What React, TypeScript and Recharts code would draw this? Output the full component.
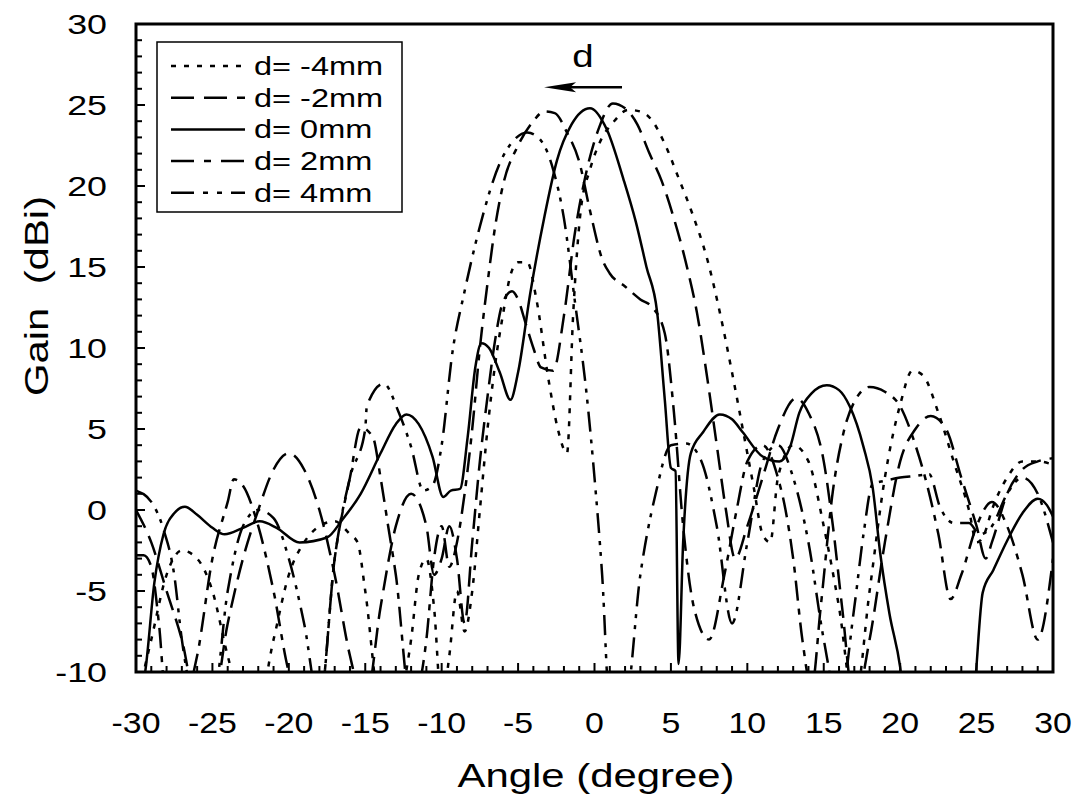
import React from 'react';
import { LineChart, Line, XAxis, YAxis, ReferenceArea, ReferenceLine } from 'recharts';

// ---- data (angle in degree, gain in dBi) ----
const xTicks = Array.from({ length: 61 }, (_, i) => i - 30);
const yTicks = Array.from({ length: 41 }, (_, i) => i - 10);

const m4Angle = [-30,-29,-28,-27,-26,-25,-24,-23,-22,-21,-20,-19,-18,-17,-16,-15.5,-15,-14,-13,-12,-11.5,-11,-10.5,-10,-9.5,-9,-8.5,-8,-7.5,-7,-6.5,-6,-5.5,-5,-4.4,-3.8,-3,-2.4,-1.8,-1.4,-0.9,-0.3,0.4,1.2,2.2,3,3.8,4.6,5.5,6.4,7.4,8.2,9.1,9.8,10.4,11,11.5,12,13,14,15,16,17,18,19,20,20.8,21.5,22.5,23.5,24.5,25,25.5,26,27,28,29,30];
const m4Gain = [-12,-8,-4,-2.5,-3,-5,-9,-12,-12,-8,-4,-2,-1,-0.7,-1.5,-2,-5,-12,-12,-8,-4,-3,-6,-12,-9,-5,-7.5,-5,0,5,9,12,14.5,15.3,15.3,13,8,5,3.5,12,18.5,21,22.8,23.9,24.7,24.6,24,22.6,20.5,18.3,15.4,12.2,8,4.5,1.5,-1.5,-2,2,4,3,-1,-6,-12,-5,2,6.5,8.6,8.3,6,3,0,-2,-1.5,0,2,3,3,2.8];

const m2Angle = [-30,-29,-28,-27,-26,-25,-24,-23,-22,-21,-20,-19,-18,-17,-16,-15,-14,-13,-12,-11,-10.5,-10,-9.5,-9,-8.5,-8,-7.5,-7,-6.5,-6,-5.4,-5,-4.5,-4,-3.5,-2.7,-2,-1.3,-0.5,0.3,1.2,2,2.8,3.6,4.4,5.1,6.05,6.7,7.4,8,8.6,9.2,10,11,12,13.2,14,15,15.6,16.2,17,18,19,20,21,22,23,24,25,25.6,26,27,28,29,30];
const m2Gain = [0,-2,-5,-8,-12,-12,-7,-3,0,2.5,3.5,2.5,0,-4,-9,-12,-6,-1,1,-1,-4,-3,-1,-3,-7,-2,3,7,10.5,12.8,13.5,13,11.5,10,8.8,8.6,12,17,21,23.6,25.1,24.8,23.8,22,20.3,18.3,15,12.2,8,4,0,-3,-1,2,5,6.9,6,3,-1,-6,-12,-8,-2,3,5,5.8,5,2,-1,-3,-2,1,2.5,3,3.2];

const z0Angle = [-30,-29.4,-28.8,-28.2,-27.5,-26.8,-26,-25,-24.2,-23,-21.9,-20.8,-19.3,-17.5,-16.5,-15.3,-14,-13,-12.3,-11.5,-10.6,-9.9,-9.4,-8.8,-8.3,-7.8,-7.4,-6.9,-6.2,-5.5,-5,-4.2,-3.3,-2.45,-1.5,-0.3,0.8,1.9,2.7,3.4,4.1,4.6,5,5.3,5.5,5.8,6.3,7.1,8.2,9,9.7,11,12.1,12.8,13.4,14.2,15.2,16,16.7,17.6,18.2,18.7,19.3,20,20.3,24.7,25.4,26.1,27,28,29,29.6,30];
const z0Gain = [-12,-10,-4.5,-1.5,-0.2,0.2,-0.3,-1.1,-1.5,-1.1,-0.7,-1.1,-2,-1.7,-0.6,1,3.5,5.3,5.9,5.3,3.3,0.8,1.2,1.3,4.5,8.8,10.3,10,8.5,6.8,8.5,13.4,18,21.6,23.8,24.8,23.5,20.4,17.8,15,12.2,6.8,2.6,2.4,-9.5,-2,3.5,4.8,5.9,5.6,4.8,3.3,3,3.9,6,7.2,7.7,7.4,6.4,3.9,1.4,-2.7,-6.4,-9.7,-12,-12,-5.1,-3.7,-1.9,-0.2,0.7,0.3,-0.4];

const p2Angle = [-30,-29.5,-29,-28.5,-28,-27,-26,-25,-24,-23.6,-23,-22,-21,-20,-19,-18,-17,-16,-15.3,-14.5,-14,-13.5,-13,-12,-11,-10.5,-10,-9.5,-9,-8.5,-8,-7.5,-7,-6.5,-6,-5,-4,-3.3,-2.6,-1.8,-1,-0.3,0.5,1,2,3,3.8,4.6,5.2,5.8,6.5,7.5,8.5,9.3,10,11,12,12.5,13,13.6,14.2,14.8,15.6,16.3,17.2,18,19,20,21,21.8,22.5,23.3,24,25,26,27,28,29,30];
const p2Gain = [-2.8,-2.8,-3.5,-7,-12,-12,-9,-3,0.5,1.9,1.5,-1,-5,-10,-12,-12,-3,2,5.1,4.5,2,-1,-4,-12,-8,-3,-1,-3.5,-2,1,5,10,14,17.5,20,22.5,24,24.6,24.5,23.3,21.5,18.5,15.5,14.6,13.8,13,12.5,10.9,6,-1,-6,-8,-4,0,3,4,2,0,-3,-8,-11,-6,1.2,4.8,7,7.6,7.3,6.4,4,1.4,-1.5,-5.5,-4,-1,0.5,-1,-4,-8,-3];

const p4Angle = [-30,-29,-28.2,-27.5,-27,-26,-25,-24,-23,-22,-21,-20,-19,-18,-17,-16,-15,-14.9,-13.8,-12.8,-12,-11.2,-10.6,-10,-9.3,-8.5,-7.5,-6.2,-5.3,-4.4,-3.5,-2.7,-2,-1.3,-0.5,0,0.5,1,2,3,4,5,6,7,8,9,10,11,12,13,14,15,16,17,17.6,18.2,19,20,21,21.9,22.6,23.5,24.5,25.2,26,27,28,29,30];
const p4Gain = [1.2,0.5,-1.2,-4,-8,-12,-12,-5,-1,0,-0.5,-3,-7,-12,-3,2,5,6.4,7.8,6,3.9,1.2,1.5,4,9.7,13.5,17.5,21.4,22.8,23.3,22.8,21,18,13,7,2,-4,-12,-12,-4,1,4,4.1,3,-1,-7,-2,3,4,2,-2,-8,-12,-6,-1.5,1.6,1.8,2,2.1,2.2,0.2,-0.8,-0.8,-1.5,-1,1,2,1,-2];

const seriesNames = ['d= -4mm', 'd= -2mm', 'd= 0mm', 'd= 2mm', 'd= 4mm'];
const seriesAngles = [m4Angle, m2Angle, z0Angle, p2Angle, p4Angle];
const seriesGains = [m4Gain, m2Gain, z0Gain, p2Gain, p4Gain];
const seriesDash = ['5 8', '20 9', undefined, '20 8 6 8', '20 8 4 7 4 8'];
const legendDash = ['5 8', '23 10', undefined, '23 10 7 10', '23 9 5 9 5 9'];

const build = (ax: number[], gy: number[]) => ax.map((a, i) => ({ angle: a, gain: gy[i] }));

const FONT = '"Liberation Sans", Arial, sans-serif';

const STX = ({ x, y, children, size, sx = 1.25, anchor = 'start', rotate = 0 }: any) => (
  <text
    transform={`translate(${x},${y}) rotate(${rotate}) scale(${sx},1)`}
    fontFamily={FONT}
    fontSize={size}
    textAnchor={anchor}
    fill="#000"
  >
    {children}
  </text>
);

const XTick = (props: any) => {
  const { x, y, payload } = props;
  const v = payload.value;
  const major = v % 5 === 0;
  return (
    <g>
      <line x1={x} x2={x} y1={y} y2={y - (major ? 9 : 6)} stroke="#000" strokeWidth={2} />
      {major && (
        <STX x={x} y={y + 61} size={30} sx={1.13} anchor="middle">
          {String(v)}
        </STX>
      )}
    </g>
  );
};

const YTick = (props: any) => {
  const { x, y, payload } = props;
  const v = payload.value;
  const major = v % 5 === 0;
  return (
    <g>
      <line x1={x} x2={x + (major ? 9 : 6)} y1={y} y2={y} stroke="#000" strokeWidth={2} />
      {major && (
        <STX x={x - 29} y={y + 10} size={28} sx={1.28} anchor="end">
          {String(v)}
        </STX>
      )}
    </g>
  );
};

const LegendBox = () => (
  <g transform="translate(156,41)">
    <rect x={1} y={1} width={245} height={170} fill="#fff" stroke="#000" strokeWidth={1.5} />
    {seriesNames.map((n, i) => {
      const cy = 25 + i * 31.7;
      return (
        <g key={n}>
          <line x1={15} x2={89} y1={cy} y2={cy} stroke="#000" strokeWidth={2.5} strokeDasharray={legendDash[i]} />
          <STX x={98} y={cy + 9} size={25} sx={1.3}>
            {n}
          </STX>
        </g>
      );
    })}
  </g>
);

const ArrowShape = (props: any) => {
  const { x1, y1, x2, y2 } = props;
  return (
    <g>
      <line x1={x1} y1={y1} x2={x2 + 20} y2={y2} stroke="#000" strokeWidth={2.5} />
      <polygon points={`${x2},${y2} ${x2 + 32},${y2 - 5} ${x2 + 26},${y2} ${x2 + 32},${y2 + 5}`} fill="#000" />
      <STX x={(x1 + x2) / 2} y={y1 - 20} size={32} sx={1.2} anchor="middle">
        d
      </STX>
    </g>
  );
};

export default function App() {
  return (
    <div style={{ position: 'absolute', left: 0, top: 0, width: 1080, height: 804, background: '#fff' }}>
      <LineChart width={1080} height={804} margin={{ top: 24, right: 27, bottom: 72, left: 76 }}>
        <XAxis
          dataKey="angle"
          type="number"
          domain={[-30, 30]}
          ticks={xTicks}
          interval={0}
          allowDataOverflow
          axisLine={false}
          tickLine={false}
          tickSize={0}
          tickMargin={0}
          height={60}
          tick={<XTick />}
        />
        <YAxis
          type="number"
          domain={[-10, 30]}
          ticks={yTicks}
          interval={0}
          allowDataOverflow
          axisLine={false}
          tickLine={false}
          tickSize={0}
          tickMargin={0}
          width={60}
          tick={<YTick />}
        />
        {seriesNames.map((n, i) => (
          <Line
            key={n}
            data={build(seriesAngles[i], seriesGains[i])}
            dataKey="gain"
            name={n}
            type="monotone"
            stroke="#000"
            strokeWidth={2.5}
            strokeDasharray={seriesDash[i]}
            dot={false}
            activeDot={false}
            isAnimationActive={false}
          />
        ))}
        <ReferenceArea x1={-30} x2={30} y1={-10} y2={30} fill="none" stroke="#000" strokeWidth={3} />
        <ReferenceLine
          segment={[{ x: 1.8, y: 26.1 }, { x: -3.3, y: 26.1 }]}
          shape={<ArrowShape />}
        />
      </LineChart>
      <svg width={1080} height={804} style={{ position: 'absolute', left: 0, top: 0, pointerEvents: 'none' }}>
        <LegendBox />
        <STX x={596} y={787} size={33} sx={1.27} anchor="middle">
          Angle (degree)
        </STX>
        <STX x={48} y={296} size={33} sx={1.27} anchor="middle" rotate={-90}>
          {'Gain\u00a0 (dBi)'}
        </STX>
      </svg>
    </div>
  );
}
